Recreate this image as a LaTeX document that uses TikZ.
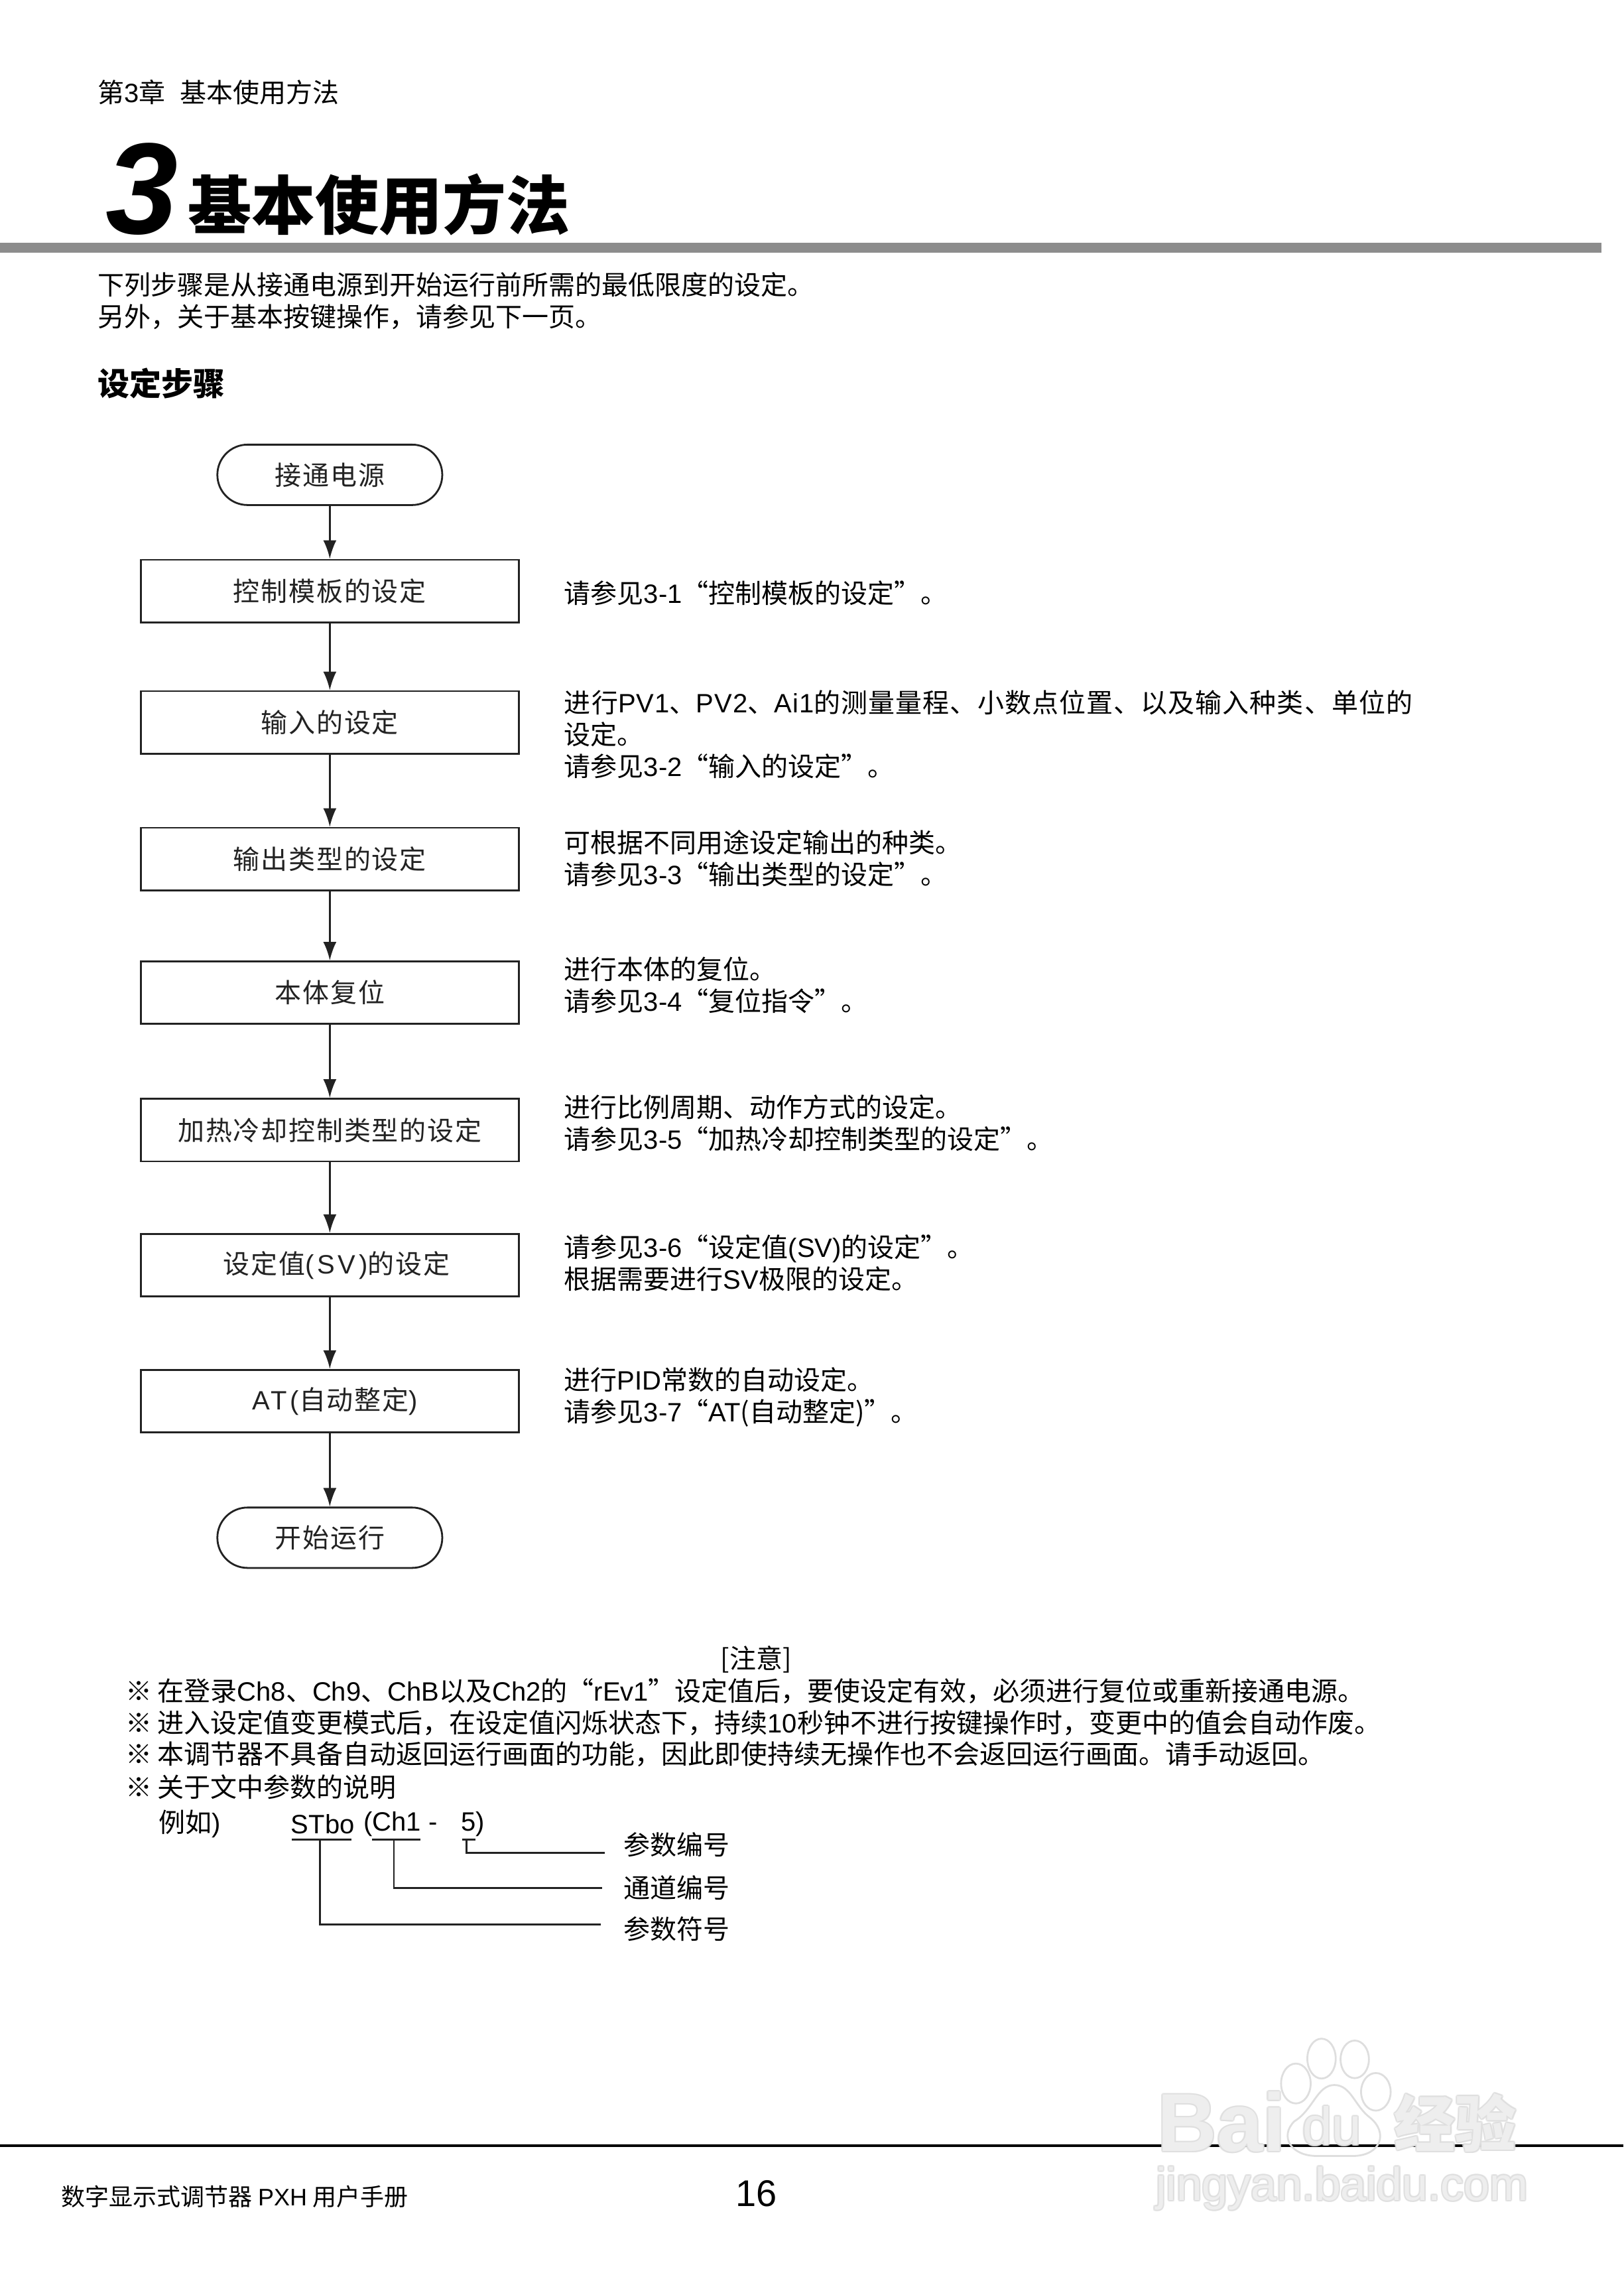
\documentclass[tikz,border=0pt]{standalone}
\usepackage{fontspec}
\usepackage{contour}
\usetikzlibrary{arrows.meta}
\setmainfont{Noto Sans CJK SC}
\newfontfamily\lat{Liberation Sans}
\newfontfamily\latwide[LetterSpace=12]{Liberation Sans}
\newfontfamily\spaced[LetterSpace=4.5]{Noto Sans CJK SC}
\newfontfamily\stretched[LetterSpace=2.7]{Noto Sans CJK SC}
\newfontfamily\latstretched[LetterSpace=2.7]{Liberation Sans}
\newcommand{\la}[1]{{\lat #1}}
\newcommand{\lw}[1]{{\latwide #1}}
\newcommand{\ls}[1]{{\latstretched #1}}
\contourlength{0.55pt}
\definecolor{ink}{HTML}{222222}
\definecolor{barcol}{HTML}{8C8C8C}
\definecolor{wmark}{HTML}{DEDEDE}
\begin{document}
\begin{tikzpicture}[ink,
    stepbox/.style={draw, line width=0.7pt, minimum width=5.01cm, minimum height=0.83cm, inner sep=0pt, font=\fontsize{10}{12}\spaced},
    term/.style={draw, line width=0.7pt, rounded corners=0.4cm, minimum width=2.98cm, minimum height=0.8cm, inner sep=0pt, font=\fontsize{10}{12}\spaced},
    note/.style={anchor=west, align=left, inner sep=0pt, font=\fontsize{10}{12}\selectfont, text=black},
    tag/.style={anchor=west, inner sep=0pt, inner xsep=7pt, font=\fontsize{10}{12}\selectfont, text=black},
    arr/.style={-{Latex[length=7pt,width=5pt]}, line width=0.7pt},
    lead/.style={line width=0.6pt},
    toe/.style={draw=wmark, line width=0.7pt},
    wm/.style={anchor=west, inner sep=0pt, text=white, text opacity=0.5}]
    \useasboundingbox (0,0) rectangle (21.51,-30.19);
    \node[note] (head) at (1.29,-1.22) {第\la{3}章\hspace{0.55em}基本使用方法};
    \node[anchor=west, inner sep=0pt, font=\fontsize{49}{49}\lat\bfseries\itshape, text=black] (num) at (1.39,-2.5) {3};
    \node[anchor=west, inner sep=0pt, font=\fontsize{24}{24}\selectfont\bfseries, text=black] (title) at (2.48,-2.71) {基本使用方法};
    \fill[barcol] (0,-3.22) rectangle (21.22,-3.35);
    \node[note] (intro) at (1.29,-3.99) {下列步骤是从接通电源到开始运行前所需的最低限度的设定。\\另外，关于基本按键操作，请参见下一页。};
    \node[note, font=\fontsize{12}{14}\selectfont\bfseries] (steps) at (1.29,-5.08) {设定步骤};

    \node[term] (on) at (4.37,-6.29) {接通电源};
    \node[stepbox] (s1) at (4.37,-7.83) {控制模板的设定};
    \node[stepbox] (s2) at (4.37,-9.57) {输入的设定};
    \node[stepbox] (s3) at (4.37,-11.38) {输出类型的设定};
    \node[stepbox] (s4) at (4.37,-13.15) {本体复位};
    \node[stepbox] (s5) at (4.37,-14.97) {加热冷却控制类型的设定};
    \node[stepbox] (s6) at (4.37,-16.76) {\hspace{5pt}设定值\lw{(SV)}的设定};
    \node[stepbox] (s7) at (4.37,-18.56) {\hspace{3.8pt}\lw{AT(}自动整定\lw{)}};
    \node[term] (run) at (4.37,-20.37) {开始运行};
    \draw[arr] (on) -- (s1);
    \draw[arr] (s1) -- (s2);
    \draw[arr] (s2) -- (s3);
    \draw[arr] (s3) -- (s4);
    \draw[arr] (s4) -- (s5);
    \draw[arr] (s5) -- (s6);
    \draw[arr] (s6) -- (s7);
    \draw[arr] (s7) -- (run);

    \node[note] (n1) at (7.47,-7.86) {请参见\la{3-1}“控制模板的设定”。};
    \node[note] (n2) at (7.47,-9.73) {{\stretched 进行\ls{PV1}、\ls{PV2}、\ls{Ai1}的测量量程、小数点位置、以及输入种类、单位的}\\设定。\\请参见\la{3-2}“输入的设定”。};
    \node[note] (n3) at (7.47,-11.37) {可根据不同用途设定输出的种类。\\请参见\la{3-3}“输出类型的设定”。};
    \node[note] (n4) at (7.47,-13.05) {进行本体的复位。\\请参见\la{3-4}“复位指令”。};
    \node[note] (n5) at (7.47,-14.88) {进行比例周期、动作方式的设定。\\请参见\la{3-5}“加热冷却控制类型的设定”。};
    \node[note] (n6) at (7.47,-16.73) {请参见\la{3-6}“设定值\la{(SV)}的设定”。\\根据需要进行\la{SV}极限的设定。};
    \node[note] (n7) at (7.47,-18.51) {进行\la{PID}常数的自动设定。\\请参见\la{3-7}“\la{AT}(自动整定)”。};

    \node[note, anchor=center] (warn) at (10.02,-21.98) {[注意]};
    \node[note] (w1) at (1.66,-22.40) {※\hspace{0.2em}在登录\la{Ch8}、\la{Ch9}、\la{ChB}以及\la{Ch2}的“\la{rEv1}”设定值后，要使设定有效，必须进行复位或重新接通电源。};
    \node[note] (w2) at (1.66,-22.82) {※\hspace{0.2em}进入设定值变更模式后，在设定值闪烁状态下，持续\la{10}秒钟不进行按键操作时，变更中的值会自动作废。};
    \node[note] (w3) at (1.66,-23.24) {※\hspace{0.2em}本调节器不具备自动返回运行画面的功能，因此即使持续无操作也不会返回运行画面。请手动返回。};
    \node[note] (w4) at (1.66,-23.67) {※\hspace{0.2em}关于文中参数的说明};
    \node[note] (eg) at (2.10,-24.16) {例如\la{)}};
    \node[note] (st) at (3.85,-24.16) {\la{STbo}};
    \node[note] (ch) at (4.81,-24.16) {\la{(Ch1 -}};
    \node[note] (pn) at (6.10,-24.16) {\la{5)}};
    \coordinate (ua) at (3.87,-24.37);
    \coordinate (ub) at (4.66,-24.37);
    \coordinate (uc) at (4.93,-24.37);
    \coordinate (ud) at (5.57,-24.37);
    \coordinate (ue) at (6.12,-24.37);
    \coordinate (uf) at (6.30,-24.37);
    \coordinate (um) at (4.24,-24.37);
    \coordinate (un) at (5.22,-24.37);
    \coordinate (uo) at (6.18,-24.37);
    \node[tag] (parnum) at (8.01,-24.44) {参数编号};
    \node[tag] (chnum) at (8.01,-25.01) {通道编号};
    \node[tag] (parsym) at (8.01,-25.55) {参数符号};
    \draw[lead] (ua) -- (ub);
    \draw[lead] (uc) -- (ud);
    \draw[lead] (ue) -- (uf);
    \draw[lead] (uo) |- ([yshift=-3pt]parnum.west);
    \draw[lead] (un) |- ([xshift=-1pt]chnum.west);
    \draw[lead] (um) |- ([xshift=-1.5pt,yshift=1.6pt]parsym.west);

    \draw[line width=1pt, black] (0,-28.42) -- (21.51,-28.42);
    \node[note, font=\fontsize{9}{11}\selectfont] (manual) at (0.81,-29.10) {数字显示式调节器 \la{PXH} 用户手册};
    \node[note, anchor=center, font=\fontsize{14}{16}\lat] (page) at (10.02,-29.06) {16};

    \draw[toe] (17.51,-27.27) ellipse (0.188 and 0.264);
    \draw[toe] (17.95,-27.28) ellipse (0.188 and 0.249);
    \draw[toe] (17.17,-27.60) ellipse (0.196 and 0.264);
    \draw[toe] (18.23,-27.71) ellipse (0.196 and 0.249);
    \draw[toe] (17.68,-27.62) .. controls (17.45,-27.62) and (17.40,-27.95) .. (17.15,-28.10) .. controls (16.95,-28.30) and (17.10,-28.56) .. (17.45,-28.56) .. controls (17.55,-28.56) and (17.80,-28.56) .. (17.92,-28.56) .. controls (18.30,-28.56) and (18.40,-28.25) .. (18.15,-28.05) .. controls (17.95,-27.90) and (17.90,-27.62) .. (17.68,-27.62);
    \node[wm, font=\fontsize{31}{31}\lat\bfseries] (wm1) at (15.33,-28.12) {\contour{wmark}{Bai}};
    \node[wm, font=\fontsize{20}{20}\lat] (wm2) at (17.25,-28.17) {\contour{wmark}{du}};
    \node[wm, font=\fontsize{23}{23}\selectfont\bfseries] (wm3) at (18.47,-28.13) {\contour{wmark}{经验}};
    \node[wm, font=\fontsize{17.4}{18}\lat] (wm4) at (15.31,-29.0) {\contour{wmark}{jingyan.baidu.com}};
\end{tikzpicture}
\end{document}
